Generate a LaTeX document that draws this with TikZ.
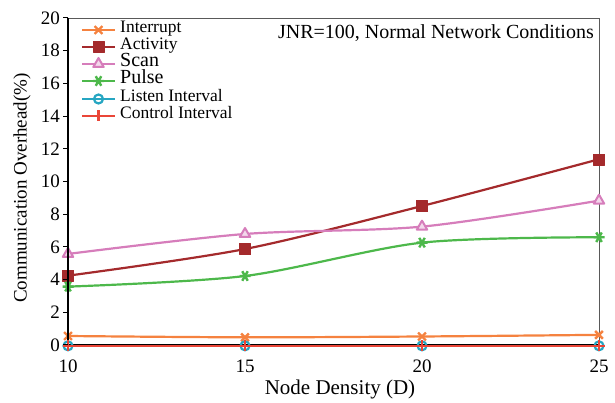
\documentclass[tikz,border=0pt]{standalone}
\usepackage{fontspec}
\setmainfont{Liberation Serif}
\usetikzlibrary{plotmarks}
\definecolor{cInt}{HTML}{F5823F}
\definecolor{cAct}{HTML}{A42A2C}
\definecolor{cScan}{HTML}{D67DBB}
\definecolor{cPul}{HTML}{4DB84B}
\definecolor{cLis}{HTML}{26A6C2}
\definecolor{cCon}{HTML}{EA4638}
\tikzset{
  series/.style={line width=2.2pt, line join=round},
  ticklab/.style={font=\fontsize{19}{19}\selectfont, inner sep=0pt},
  legtext/.style={font=\fontsize{17.5}{17.5}\selectfont, anchor=west, inner sep=0pt, text height=0.66em, text depth=0.1em},
  legbig/.style={font=\fontsize{20}{20}\selectfont, anchor=west, inner sep=0pt, text height=0.64em, text depth=0.08em},
  mInt/.style={mark=x, mark size=5.5pt, mark options={line width=2.4pt}},
  mAct/.style={mark=square*, mark size=5.5pt, mark options={line width=0.5pt}},
  mScan/.style={mark=triangle*, mark size=6pt, mark options={fill=cScan!30!white, line width=2pt}},
  mPul/.style={mark=asterisk, mark size=5.5pt, mark options={rotate=90, line width=2.4pt}},
  mLis/.style={mark=o, mark size=4.5pt, mark options={line width=2.2pt}},
  mCon/.style={mark=+, mark size=5.5pt, mark options={line width=2.4pt}},
}
\begin{document}
\begin{tikzpicture}[x=1pt,y=1pt]
\useasboundingbox (0,0) rectangle (615,403);
\begin{scope}[shift={(68,58)}, x=35.4pt, y=16.35pt]
  % frame
  \draw[gray!70!black, line width=0.9pt] (0,20) -- (15,20) -- (15,0);
  % data
  \draw[series, cInt, smooth, tension=0.5, mInt]
    plot coordinates {(0,0.55) (5,0.47) (10,0.52) (15,0.62)};
  \draw[series, cAct, smooth, tension=0.5, mAct]
    plot coordinates {(0,4.24) (5,5.87) (10,8.5) (15,11.36)};
  \draw[series, cScan, smooth, tension=0.5, mScan]
    plot coordinates {(0,5.57) (5,6.79) (10,7.24) (15,8.83)};
  \draw[series, cPul, smooth, tension=0.5, mPul]
    plot coordinates {(0,3.57) (5,4.22) (10,6.26) (15,6.59)};
  % axes
  \draw[black, line width=1.8pt] (0,20) -- (0,0) -- (15,0);
  \draw[series, cLis, mLis]
    plot coordinates {(0,-0.05) (5,-0.05) (10,-0.05) (15,-0.05)};
  \draw[series, cCon, line width=1.6pt, mCon]
    plot coordinates {(0,-0.05) (5,-0.05) (10,-0.05) (15,-0.05)};
  \foreach \v in {0,2,...,20} {
    \draw[black, line width=1pt] (0,\v) -- ++(-5pt,0);
    \node[ticklab, anchor=east] at ([xshift=-8pt]0,\v) {\v};
  }
  \foreach \d/\l in {0/10,5/15,10/20,15/25} {
    \node[ticklab, anchor=base] at ([yshift=-28pt]\d,0) {\l};
  }
\end{scope}
% axis labels
\node[font=\fontsize{21}{21}\selectfont, inner sep=0pt] (xlab) at (340,14) {Node Density (D)};
\node[font=\fontsize{19}{19}\selectfont, inner sep=0pt, rotate=90] (ylab) at (22,215) {Communication Overhead(\%)};
% title
\node[font=\fontsize{20}{20}\selectfont, anchor=east, inner sep=0pt] (title) at (594,370) {JNR=100, Normal Network Conditions};
% legend
\draw[series, cInt] (82,373) -- (115,373);
\draw[series, cInt, mInt] plot coordinates {(98.5,373)};
\node[legtext] (l1) at (120,373) {Interrupt};
\draw[series, cAct] (82,356) -- (115,356);
\draw[series, cAct, mAct] plot coordinates {(98.5,356)};
\node[legtext] (l2) at (120,356) {Activity};
\draw[series, cScan] (82,339) -- (115,339);
\draw[series, cScan, mScan] plot coordinates {(98.5,339)};
\node[legbig] (l3) at (120,339) {Scan};
\draw[series, cPul] (82,322) -- (115,322);
\draw[series, cPul, mPul] plot coordinates {(98.5,322)};
\node[legbig] (l4) at (120,322) {Pulse};
\draw[series, cLis] (82,304) -- (115,304);
\draw[series, cLis, mLis] plot coordinates {(98.5,304)};
\node[legtext] (l5) at (120,304) {Listen Interval};
\draw[series, cCon] (82,287) -- (115,287);
\draw[series, cCon, mCon] plot coordinates {(98.5,287)};
\node[legtext] (l6) at (120,287) {Control Interval};
\end{tikzpicture}
\end{document}
